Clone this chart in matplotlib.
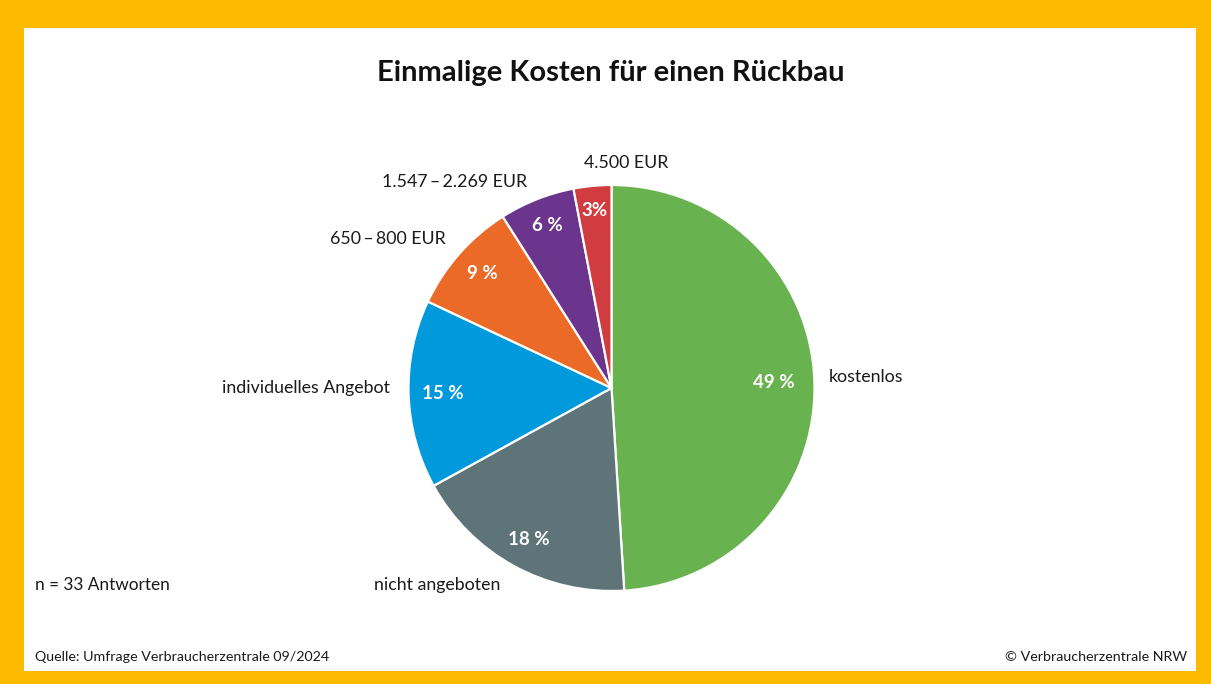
import matplotlib.pyplot as plt
from matplotlib.patches import Rectangle
import numpy as np

plt.rcParams['font.family'] = ['Lato', 'DejaVu Sans']

# data
labels = ['kostenlos', 'nicht angeboten', 'individuelles Angebot',
          '650\u2009\u2013\u2009800 EUR', '1.547\u2009\u2013\u20092.269 EUR', '4.500 EUR']
values = [49, 18, 15, 9, 6, 3]
pct_text = ['49 %', '18 %', '15 %', '9 %', '6 %', '3%']
colors = ['#68b24f', '#5e7479', '#0099db', '#eb6a27', '#6b358e', '#d03c3f']

# layout (pixel coords, y from top)
W, H = 1211, 684
cx, cy, R = 611.5, 388, 203
pct_dist = [0.80, 0.85, 0.83, 0.85, 0.86, 0.88]
lab_pos = [(829, 377, 'left'), (437, 585, 'center'), (390, 388, 'right'),
           (446, 239, 'right'), (527, 182, 'right'), (626, 163, 'center')]

fig = plt.figure(figsize=(W / 100, H / 100), dpi=100)
fig.patch.set_facecolor('#fdbb00')

ax = fig.add_axes([0, 0, 1, 1])
ax.axis('off')
ax.add_patch(Rectangle((24, H - 671), 1196 - 24, 671 - 28, facecolor='white',
                       edgecolor='none', zorder=0))

wedges, _ = ax.pie(values, colors=colors, startangle=90, counterclock=False,
                   center=(cx, H - cy), radius=R, frame=False,
                   wedgeprops=dict(edgecolor='white', linewidth=1.6, zorder=2))
ax.set_aspect('equal')
ax.set_xlim(0, W)
ax.set_ylim(0, H)
ax.axis('off')

for w, t, d in zip(wedges, pct_text, pct_dist):
    a = np.deg2rad((w.theta1 + w.theta2) / 2)
    ax.text(cx + R * d * np.cos(a), H - cy + R * d * np.sin(a), t, zorder=3,
            color='white', fontsize=13.5, fontweight='bold', ha='center', va='center')

for lab, (x, y, ha) in zip(labels, lab_pos):
    ax.text(x, H - y, lab, fontsize=12.8, color='#1a1a1a', ha=ha, va='center')

ax.text(W / 2 + 5, H - 73, 'Einmalige Kosten für einen Rückbau', fontsize=21,
        fontweight='bold', color='#111111', ha='center', va='center')
ax.text(35, H - 585, 'n = 33 Antworten', fontsize=12.4, color='#1a1a1a', va='center')
ax.text(35, H - 657, 'Quelle: Umfrage Verbraucherzentrale 09/2024', fontsize=10.3,
        color='#1a1a1a', va='center')
ax.text(1187, H - 657, '© Verbraucherzentrale NRW', fontsize=10.3,
        color='#1a1a1a', va='center', ha='right')

fig.savefig('out.png', dpi=100)
